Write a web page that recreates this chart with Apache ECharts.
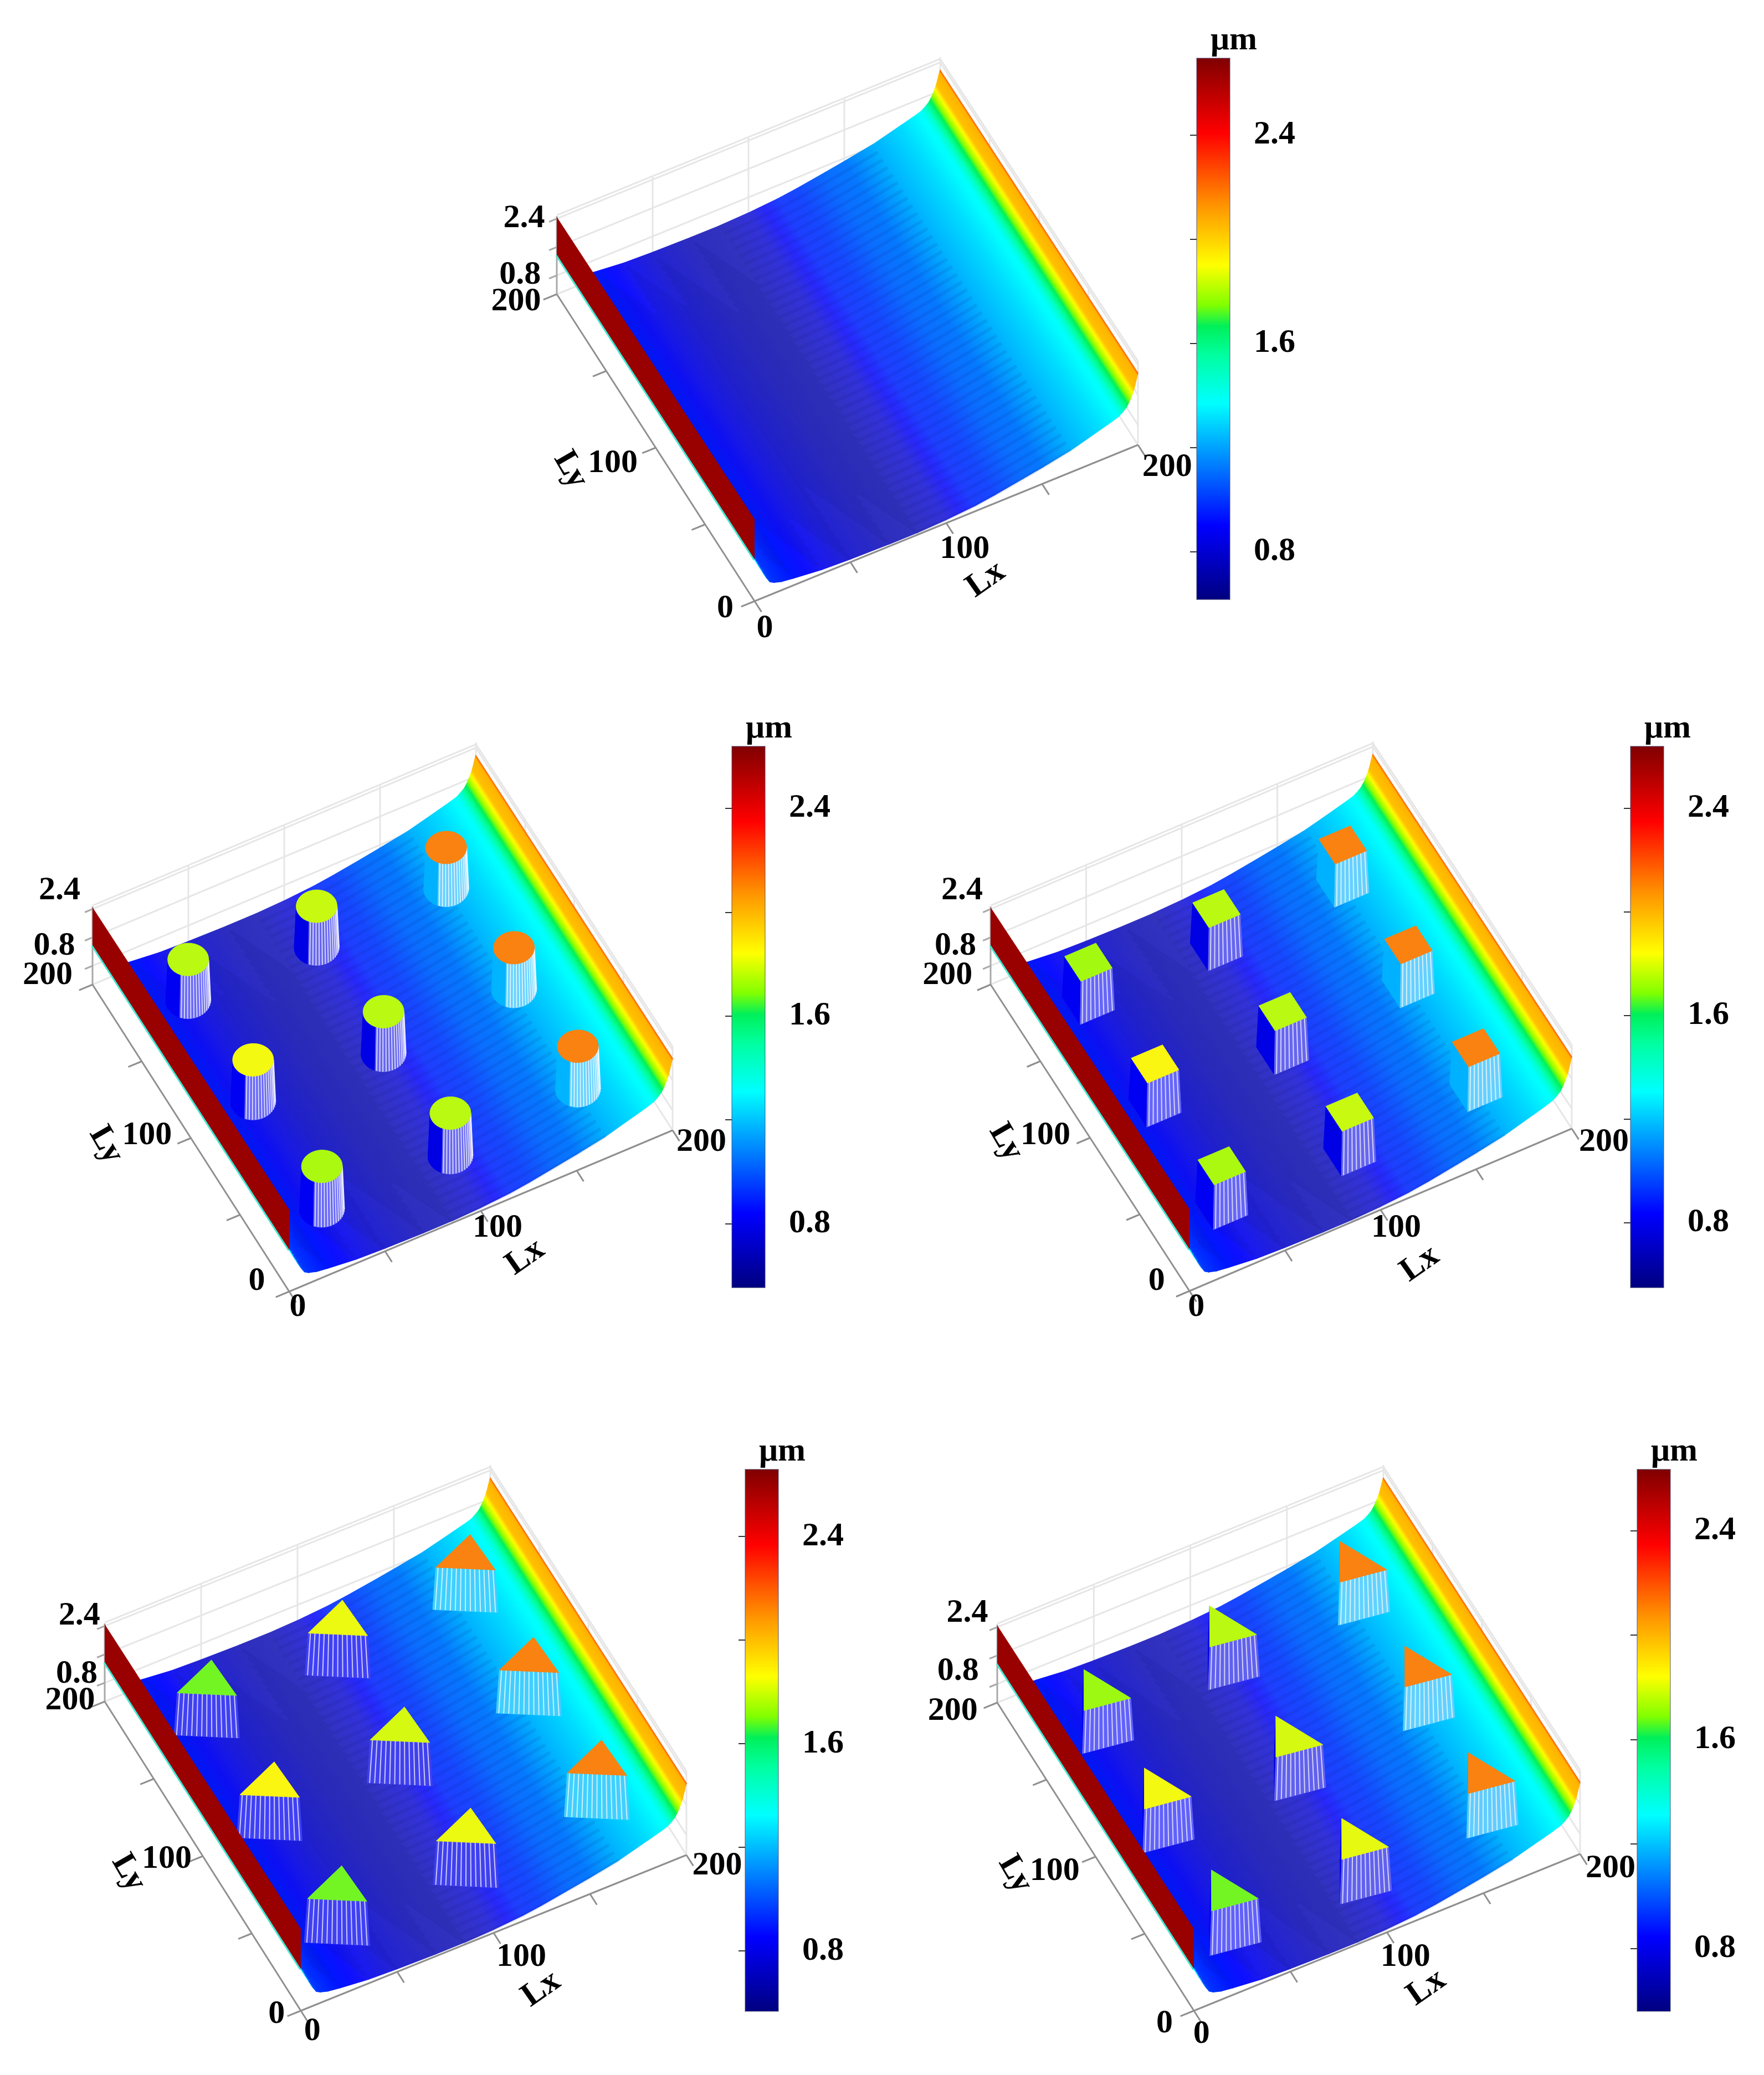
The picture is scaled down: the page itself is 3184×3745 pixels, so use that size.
<!DOCTYPE html>
<html><head><meta charset="utf-8">
<style>html,body{margin:0;padding:0;background:#fff}#c{width:3184px;height:3745px}</style>
<script src="https://cdn.jsdelivr.net/npm/echarts@6/dist/echarts.min.js"></script>
</head><body><div id="c"></div>
<script>
// ---------- data ----------
const lxTicks = [0, 50, 100, 150, 200];
const lyTicks = [0, 50, 100, 150, 200];
const zTicks = [0.8, 1.6, 2.4];
const lxTickLabels = ['0', '100', '200'];
const lyTickLabels = ['0', '100', '200'];
const zTickLabels = ['2.4', '0.8'];
const barTicks = [0.8, 1.2, 1.6, 2.0, 2.4];
const barTickLabels = [0.8, 1.6, 2.4];
const unitLabel = '\u03bcm';
// film profile across Lx: station, height on the z axis, value on the colour scale, grey tint of the fine mesh
const profileLx     = [0, 1, 2, 4, 6, 8, 10, 14, 20, 35, 50, 70, 85, 100, 115, 125, 140, 150, 165, 180, 186, 190, 192, 194, 195.5, 197, 198, 199.6, 200];
const profileHeight = [1.38, 1.28, 1.18, .98, .78, .62, .56, .5, .46, .38, .35, .33, .33, .36, .42, .49, .62, .71, .86, 1.08, 1.17, 1.24, 1.31, 1.40, 1.52, 1.68, 1.81, 2.12, 2.18];
const profileColour = [1.37, 1.34, 1.3, 1.18, 1.08, 1.02, 1.0, .98, .95, .88, .81, .77, .77, .83, .97, 1.0, 1.09, 1.12, 1.23, 1.31, 1.35, 1.38, 1.46, 1.6, 1.72, 1.87, 2.02, 2.05, 2.2];
const profileTint   = [0, 0, 0, 0, 0, 0, 0, 0, 0, 25, 35, 45, 50, 50, 30, 22, 10, 5, 0, 0, 0, 0, 0, 0, 0, 0, 0, 0, 0];
// the high rim along Lx = 0
const rimHeights = [1.38, 2.45];
const rimColour = 2.6;
// pillar centres and pillar-top values, one list per panel (panel 1 has none)
const pillarLx2 = [34, 101, 166, 34, 100.5, 166, 34, 101, 165];
const pillarLy2 = [33, 33, 30, 103, 100, 95, 169, 169, 162];
const pillarTop2 = [1.78, 1.80, 2.17, 1.88, 1.80, 2.17, 1.80, 1.82, 2.17];
const pillarLx3 = [34, 101, 165, 34, 100.5, 165, 34, 101, 165];
const pillarLy3 = [33, 33, 29, 100, 99.5, 97, 167, 167, 163];
const pillarTop3 = [1.78, 1.82, 2.17, 1.9, 1.8, 2.17, 1.77, 1.8, 2.17];
const pillarLx4 = [35.4, 103.8, 170.2, 35, 103.2, 169.5, 36, 105.7, 170.4];
const pillarLy4 = [31, 34, 31, 99, 100.3, 99, 165, 168.5, 165.5];
const pillarTop4 = [1.72, 1.87, 2.17, 1.9, 1.84, 2.17, 1.72, 1.87, 2.17];
const pillarLx5 = [32, 99.5, 164, 31.4, 99.5, 166, 32.7, 101.4, 167];
const pillarLy5 = [29, 29, 27, 96, 96, 95.4, 160, 167, 163.4];
const pillarTop5 = [1.72, 1.86, 2.17, 1.88, 1.84, 2.17, 1.76, 1.8, 2.17];
const pillarHeight = 1.15;
// pillar cross-sections in Lx/Ly units
const squareOutline = [[8.2, 8.2], [-8.2, 8.2], [-8.2, -8.2], [8.2, -8.2]];
const triangleOutlineA = [[7.2, 11.1], [-15.6, 1.2], [8.2, -12.6]];
const triangleOutlineB = [[-0.3, 15.5], [-11.1, -5.8], [11.4, -9.2]];
const circleRadius = 9.5;

// jet-like colour scale
const colourStops = [[.63,[0,0,127]],[.91,[0,0,255]],[1.2,[0,160,255]],[1.37,[0,255,255]],[1.55,[0,255,160]],[1.66,[0,240,90]],[1.74,[130,255,0]],[1.89,[255,255,0]],[2.11,[255,150,0]],[2.385,[255,0,0]],[2.67,[127,0,0]]];
const colourRange = [0.63, 2.67];

// ---------- layout ----------
const S = 3184 / 1333;
const at = (x, y) => [x * S, y * S];
const panels = [
 {O:[1362,1085],X:[692,-282],Y:[-357,-554],bar:[2160,105,60,977],barRange:[.617,2.695],soft:.4,
  z:[at(396,165),at(393,208)],ly:[at(548,460),at(463,350),at(390,228)],lx:[at(578,475),at(729,415),at(882,353)],lyName:at(431,355),lxName:at(745,438)},
 {O:[522,2331],X:[692,-291],Y:[-355,-554],bar:[1321,1347,60,977],barRange:[.553,2.639],soft:.4,
  z:[at(45,673),at(41,715)],ly:[at(194,968),at(111,858),at(36,737)],lx:[at(225,988),at(376,928),at(530,863)],lyName:at(80,865),lxName:at(397,950),
  lx_:pillarLx2,ly_:pillarLy2,top:pillarTop2,shape:'circle'},
 {O:[2147,2330],X:[690,-293],Y:[-359,-553],bar:[2943,1347,60,977],barRange:[.549,2.638],soft:.4,
  z:[at(727,673),at(722,715)],ly:[at(874,968),at(790,858),at(716,737)],lx:[at(904,988),at(1055,928),at(1212,863)],lyName:at(760,863),lxName:at(1073,955),
  lx_:pillarLx3,ly_:pillarLy3,top:pillarTop3,outline:squareOutline},
 {O:[543,3629],X:[696,-281],Y:[-354,-558],bar:[1345,2652,60,978],barRange:[.567,2.659],soft:.25,
  z:[at(60,1221),at(58,1265)],ly:[at(209,1522),at(126,1405),at(53,1285)],lx:[at(236,1535),at(394,1479),at(542,1410)],lyName:at(97,1415),lxName:at(409,1503),
  lx_:pillarLx4,ly_:pillarLy4,top:pillarTop4,outline:triangleOutlineA},
 {O:[2155,3629],X:[697,-283],Y:[-355,-556],bar:[2955,2652,60,978],barRange:[.559,2.634],soft:.38,
  z:[at(731,1219),at(724,1263)],ly:[at(880,1529),at(797,1414),at(720,1293)],lx:[at(908,1537),at(1062,1479),at(1217,1412)],lyName:at(767,1416),lxName:at(1078,1502),
  lx_:pillarLx5,ly_:pillarLy5,top:pillarTop5,outline:triangleOutlineB}
];
const Z0 = 0.27, KZ = 64, FONT = '"Liberation Serif","Times New Roman",serif';

// ---------- helpers ----------
function jet(v){
  const s = colourStops;
  if (v <= s[0][0]) return s[0][1].slice();
  for (let i = 1; i < s.length; i++) if (v <= s[i][0]) {
    const t = (v - s[i-1][0]) / (s[i][0] - s[i-1][0]);
    return s[i][1].map((c, k) => s[i-1][1][k] + (c - s[i-1][1][k]) * t);
  }
  return s[s.length-1][1].slice();
}
const css = c => 'rgb(' + c.map(Math.round).join(',') + ')';
const mix = (c, o, t) => c.map((x, i) => x + (o[i] - x) * t);
function tinted(v, tint){
  const c = jet(v);
  return css([c[0] + tint, c[1] + tint, c[2]]);
}
function lookup(xs, ys, x){
  for (let i = 1; i < xs.length; i++) if (x <= xs[i]) return ys[i-1] + (ys[i]-ys[i-1]) * (x-xs[i-1]) / (xs[i]-xs[i-1]);
  return ys[ys.length-1];
}
function project(p, lx, ly, h){
  const pers = 1 + .06 * (1 - ly / 200);
  return [p.O[0] + lx/200*p.X[0] + ly/200*p.Y[0],
          p.O[1] + lx/200*p.X[1] + ly/200*p.Y[1] - (h - Z0) * KZ * pers];
}
const line = (a, b, stroke, w) => ({type:'line', shape:{x1:a[0],y1:a[1],x2:b[0],y2:b[1]}, style:{stroke:stroke, lineWidth:w}});

// ---------- series builders ----------
function frameSeries(p, i){
  const P = (a,b,h) => project(p,a,b,h);
  const light = '#e6e6e6', axis = '#8f8f8f', top = 2.5;
  const defs = [];
  [50,100,150].forEach(x => defs.push([P(x,200,Z0),P(x,200,top),light,3]));
  zTicks.concat([top]).forEach(z => {
    defs.push([P(0,200,z),P(200,200,z),light,3]);
    defs.push([P(200,200,z),P(200,0,z),light,3]);
  });
  [50,100,150].forEach(y => defs.push([P(200,y,Z0),P(200,y,top),light,3]));
  defs.push([P(200,200,Z0),P(200,200,top+.05),light,3]);
  defs.push([P(200,0,Z0),P(200,0,top),light,3]);
  defs.push([P(0,200,Z0),P(200,200,Z0),light,3]);
  defs.push([P(200,200,Z0),P(200,0,Z0),light,3]);
  defs.push([P(0,0,Z0),P(200,0,Z0),axis,3]);
  defs.push([P(0,0,Z0),P(0,200,Z0),axis,3]);
  defs.push([P(0,200,Z0),P(0,200,2.47),'#a8a8a8',3]);
  lxTicks.forEach(x => defs.push([P(x,0,Z0),P(x,-7,Z0),axis,3]));
  lyTicks.forEach(y => defs.push([P(0,y,Z0),P(-7,y,Z0),axis,3]));
  zTicks.forEach(z => defs.push([P(0,200,z),P(-4,200,z),'#a8a8a8',3]));
  return {type:'custom', xAxisIndex:i, yAxisIndex:i, silent:true, animation:false,
    data: defs.map((d,k)=>[k]),
    renderItem:(params,api)=>{
      const d = defs[params.dataIndex];
      return line(api.coord(d[0]),api.coord(d[1]),d[2],d[3]);
    }};
}
function surfaceSeries(p, i){
  const rows = [];
  for (let k = profileLx.length - 2; k >= 0; k--)
    rows.push([profileLx[k], profileLx[k+1], profileHeight[k], profileHeight[k+1], profileColour[k], profileColour[k+1], profileTint[k], profileTint[k+1]]);
  return {type:'custom', xAxisIndex:i, yAxisIndex:i, silent:true, animation:false, data:rows,
    renderItem:(params,api)=>{
      const a=api.value(0),b=api.value(1),ha=api.value(2),hb=api.value(3),va=api.value(4),vb=api.value(5),ta=api.value(6),tb=api.value(7);
      const pts=[project(p,a,0,ha),project(p,a,200,ha),project(p,b,200,hb),project(p,b,0,hb)].map(q=>api.coord(q));
      const g0=api.coord(project(p,a,100,ha)), g1=api.coord(project(p,b,100,hb));
      const ey=[pts[1][0]-pts[0][0],pts[1][1]-pts[0][1]], L=Math.hypot(ey[0],ey[1]);
      const n=[ey[1]/L,-ey[0]/L], d=(g1[0]-g0[0])*n[0]+(g1[1]-g0[1])*n[1];
      const stops=[];
      for(let t=0;t<=4;t++) stops.push({offset:t/4,color:tinted(va+(vb-va)*t/4,ta+(tb-ta)*t/4)});
      const grad=new echarts.graphic.LinearGradient(g0[0],g0[1],g0[0]+n[0]*d,g0[1]+n[1]*d,stops,true);
      return {type:'polygon',shape:{points:pts},style:{fill:grad,stroke:grad,lineWidth:1.5}};
    }};
}
// the fine chevron ripple that the plotting mesh leaves on the surface
function rippleSeries(p, i){
  const rows=[];
  for(let b=-220;b<200;b+=5) rows.push([b]);
  const vertex=85, far=165, near=14;
  return {type:'custom', xAxisIndex:i, yAxisIndex:i, silent:true, animation:false, data:rows,
    renderItem:(params,api)=>{
      const b=api.value(0), pts=[];
      for(let k=0;k<profileLx.length;k++){
        const x=profileLx[k];
        if(x<near||x>far) continue;
        const y=x>=vertex?b:b+(vertex-x)*2.45;
        if(y<0||y>200) continue;
        pts.push(api.coord(project(p,x,y,profileHeight[k])));
      }
      if(pts.length<2) return null;
      return {type:'polyline',shape:{points:pts},style:{fill:'none',stroke:'rgba(15,20,110,.09)',lineWidth:6}};
    }};
}
function rimSeries(p, i){
  return {type:'custom', xAxisIndex:i, yAxisIndex:i, silent:true, animation:false,
    data:[[rimHeights[0],rimHeights[1],rimColour]],
    renderItem:(params,api)=>{
      const lo=api.value(0),hi=api.value(1),v=api.value(2);
      const c=q=>api.coord(q);
      const a=c(project(p,0,0,lo)),b=c(project(p,0,200,lo)),t=c(project(p,0,200,hi)),u=c(project(p,0,0,hi));
      return {type:'group',children:[
        {type:'polygon',shape:{points:[a,b,t,u]},style:{fill:css(mix(jet(v),[150,0,0],.6))}},
        line([a[0]-1,a[1]+1],[b[0]-1,b[1]+1],'#45e6d0',3)
      ]};
    }};
}
function pillarSeries(p, i){
  if(!p.lx_) return null;
  const rows=p.lx_.map((x,k)=>[x,p.ly_[k],p.top[k]]).sort((a,b)=>(b[0]+b[1])-(a[0]+a[1]));
  let outline=p.outline;
  if(p.shape==='circle'){
    outline=[];
    for(let k=0;k<44;k++){const t=k/44*Math.PI*2;outline.push([circleRadius*Math.cos(t),circleRadius*Math.sin(t)]);}
  }
  const view=[-.457,-.89], baseScale=1.1;
  return {type:'custom', xAxisIndex:i, yAxisIndex:i, silent:true, animation:false, data:rows,
    renderItem:(params,api)=>{
      const cx=api.value(0),cy=api.value(1),topV=api.value(2);
      const hBase=lookup(profileLx,profileHeight,cx), hTop=hBase+pillarHeight;
      const vBase=Math.max(.85,lookup(profileLx,profileColour,cx));
      const base=jet(vBase), soft=css(mix(base,[255,255,255],p.soft)), solid=css(base);
      const T=o=>api.coord(project(p,cx+o[0],cy+o[1],hTop));
      const B=o=>api.coord(project(p,cx+o[0]*baseScale,cy+o[1]*baseScale,hBase));
      const kids=[], lines=[];
      for(let k=0;k<outline.length;k++){
        const a=outline[k],b=outline[(k+1)%outline.length];
        const ex=b[0]-a[0],ey=b[1]-a[1],len=Math.hypot(ex,ey),nx=ey/len,ny=-ex/len;
        if(nx*view[0]+ny*view[1]<=0) continue;
        const isSolid=nx<-.72;
        kids.push({type:'polygon',shape:{points:[T(a),T(b),B(b),B(a)]},style:{fill:isSolid?solid:soft,stroke:isSolid?solid:soft,lineWidth:1}});
        if(!isSolid){
          const n=Math.max(1,Math.round(len/2.1));
          for(let m=0;m<n;m++){
            const t=(m+.5)/n,o=[a[0]+ex*t,a[1]+ey*t];
            lines.push(line(T(o),B(o),'rgba(255,255,255,.72)',2));
          }
        }
      }
      const top=css(mix(jet(topV),[220,210,120],.14));
      return {type:'group',children:kids.concat(lines,[{type:'polygon',shape:{points:outline.map(T)},style:{fill:top,stroke:top,lineWidth:1}}])};
    }};
}
function labelSeries(p, i){
  const defs=[];
  zTickLabels.forEach((t,k)=>defs.push([t,p.z[k],0]));
  lyTickLabels.forEach((t,k)=>defs.push([t,p.ly[k],0]));
  lxTickLabels.forEach((t,k)=>defs.push([t,p.lx[k],0]));
  defs.push(['Ly',p.lyName,-60]);
  defs.push(['Lx',p.lxName,35]);
  return {type:'custom', xAxisIndex:i, yAxisIndex:i, silent:true, animation:false,
    data:defs.map((d,k)=>[k]),
    renderItem:(params,api)=>{
      const d=defs[params.dataIndex], q=api.coord(d[1]);
      return {type:'text',x:q[0],y:q[1],rotation:d[2]*Math.PI/180,
        style:{text:d[0],x:0,y:0,fill:'#000',font:'bold 60px '+FONT,align:'center',verticalAlign:'middle'}};
    }};
}
function barSeries(gridIndex, range){
  return {type:'custom', xAxisIndex:gridIndex, yAxisIndex:gridIndex, silent:true, animation:false,
    data:[[0,1,range[0],range[1]]],
    renderItem:(params,api)=>{
      const a=api.coord([api.value(0),api.value(2)]), b=api.coord([api.value(1),api.value(3)]);
      const span=colourRange[1]-colourRange[0];
      const stops=colourStops.map(s=>({offset:(colourRange[1]-s[0])/span,color:css(s[1])})).reverse();
      return {type:'rect',shape:{x:a[0],y:b[1],width:b[0]-a[0],height:a[1]-b[1]},
        style:{fill:new echarts.graphic.LinearGradient(0,0,0,1,stops),stroke:'rgba(70,70,110,.45)',lineWidth:2}};
    }};
}

// ---------- assemble ----------
const grid=[], xAxis=[], yAxis=[], series=[];
panels.forEach((p,i)=>{
  const left=p.O[0]-520, top=p.O[1]-1040, w=1260, h=1140;
  grid.push({left:left,top:top,width:w,height:h});
  xAxis.push({type:'value',gridIndex:i,min:left,max:left+w,show:false});
  yAxis.push({type:'value',gridIndex:i,min:top,max:top+h,inverse:true,show:false});
  series.push(frameSeries(p,i),surfaceSeries(p,i),rippleSeries(p,i));
  const pil=pillarSeries(p,i); if(pil) series.push(pil);
  series.push(rimSeries(p,i),labelSeries(p,i));
});
panels.forEach((p,i)=>{
  const g=panels.length+i;
  grid.push({left:p.bar[0],top:p.bar[1],width:p.bar[2],height:p.bar[3]});
  xAxis.push({type:'value',gridIndex:g,min:0,max:1,show:false});
  yAxis.push({type:'value',gridIndex:g,min:p.barRange[0],max:p.barRange[1],position:'right',
    name:unitLabel,nameLocation:'end',nameGap:32,
    nameTextStyle:{fontFamily:FONT,fontWeight:'bold',fontSize:60,color:'#000',align:'center',verticalAlign:'middle',padding:[0,0,0,134]},
    axisLine:{show:false},splitLine:{show:false},
    axisTick:{show:true,inside:true,length:12,customValues:barTicks,lineStyle:{color:'#333',width:2}},
    axisLabel:{show:true,customValues:barTickLabels,margin:43,fontFamily:FONT,fontWeight:'bold',fontSize:60,color:'#000',
      formatter:v=>Number(v).toFixed(1)}});
  series.push(barSeries(g,p.barRange));
});
const chart=echarts.init(document.getElementById('c'),null,{renderer:'canvas'});
chart.setOption({animation:false,backgroundColor:'#fff',grid,xAxis,yAxis,series});
</script></body></html>
